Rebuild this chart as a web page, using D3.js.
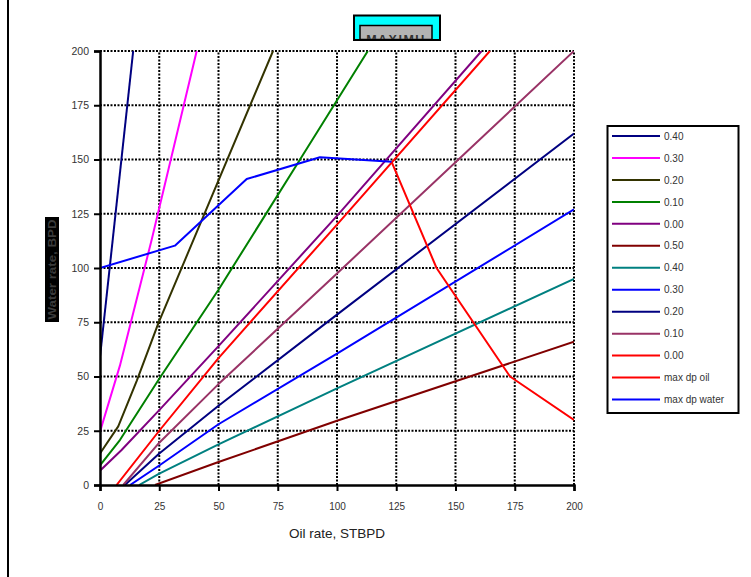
<!DOCTYPE html>
<html>
<head>
<meta charset="utf-8">
<script src="https://cdn.jsdelivr.net/npm/d3@7"></script>
<style>
  html, body { margin: 0; padding: 0; background: #fff; }
  svg { display: block; font-family: "Liberation Sans", Arial, sans-serif; }
</style>
</head>
<body>
<svg id="chart" width="751" height="577"></svg>
<script>
// Water rate vs oil rate curves for several dp values, plus the max-dp envelopes.
const xTicks = [0, 25, 50, 75, 100, 125, 150, 175, 200];
const yTicks = [0, 25, 50, 75, 100, 125, 150, 175, 200];

const seriesLabels = ["0.40", "0.30", "0.20", "0.10", "0.00", "0.50", "0.40", "0.30", "0.20", "0.10", "0.00", "max dp oil", "max dp water"];
const seriesColors = ["#000080", "#FF00FF", "#333300", "#008000", "#800080", "#800000", "#008080", "#0000FF", "#000080", "#993366", "#FF0000", "#FF0000", "#0000FF"];

// oil rate (STBPD) and water rate (BPD) per curve
const oilA040 = [0, 14];
const watA040 = [59, 200];
const oilA030 = [0, 8.4, 21.8, 40.8];
const watA030 = [24.6, 55, 113, 200];
const oilA020 = [0, 7.7, 15.5, 24.6, 73];
const watA020 = [14.5, 27, 48, 74.5, 200];
const oilA010 = [0, 8.4, 25, 50, 84.4, 113];
const watA010 = [9, 20.7, 49, 90, 150, 200];
const oilA000 = [0, 9, 25, 50, 100, 161];
const watA000 = [6.6, 16, 34.5, 64, 124, 200];
const oilB050 = [23.2, 50, 100, 200];
const watB050 = [0, 10.6, 29.6, 66];
const oilB040 = [16.5, 25, 50, 100, 200];
const watB040 = [0, 5.2, 18.7, 44.5, 95];
const oilB030 = [12.7, 25, 50, 100, 200];
const watB030 = [0, 9, 28, 60.5, 127];
const oilB020 = [10.5, 25, 50, 100, 200];
const watB020 = [0, 14.5, 36.5, 78.5, 162];
const oilB010 = [9.8, 25, 50, 100, 200];
const watB010 = [0, 19.5, 46.5, 97.5, 200];
const oilB000 = [7, 25, 50, 100, 164.5];
const watB000 = [0, 25, 58.5, 120, 200];
const oilMaxOil = [123, 142, 173, 200];
const watMaxOil = [149, 100, 50, 30];
const oilMaxWat = [0, 31.6, 61.9, 92.8, 123];
const watMaxWat = [100, 110.3, 141, 151, 149];

const seriesOil = [oilA040, oilA030, oilA020, oilA010, oilA000, oilB050, oilB040, oilB030, oilB020, oilB010, oilB000, oilMaxOil, oilMaxWat];
const seriesWat = [watA040, watA030, watA020, watA010, watA000, watB050, watB040, watB030, watB020, watB010, watB000, watMaxOil, watMaxWat];

const svg = d3.select("#chart");

const x = d3.scaleLinear().domain([0, 200]).range([100, 574]);
const y = d3.scaleLinear().domain([0, 200]).range([485, 51]);

// outer frame edge on the left
svg.append("line").attr("x1", 8).attr("x2", 8).attr("y1", 0).attr("y2", 577)
  .attr("stroke", "#000").attr("stroke-width", 2);

// grid
const grid = svg.append("g");
grid.selectAll("line.h").data(yTicks.filter(d => d > 0)).join("line")
  .attr("x1", x(0)).attr("x2", x(200))
  .attr("y1", d => y(d)).attr("y2", d => y(d))
  .attr("stroke", "#000").attr("stroke-width", 2).attr("stroke-dasharray", "2,1.5");
grid.selectAll("line.v").data(xTicks.filter(d => d > 0)).join("line")
  .attr("y1", y(0)).attr("y2", y(200))
  .attr("x1", d => x(d)).attr("x2", d => x(d))
  .attr("stroke", "#000").attr("stroke-width", 2).attr("stroke-dasharray", "2,1.5");

// curves clipped to the plot area
svg.append("clipPath").attr("id", "plotClip").append("rect")
  .attr("x", x(0)).attr("y", y(200)).attr("width", x(200) - x(0)).attr("height", y(0) - y(200));

const line = d3.line().x(d => x(d[0])).y(d => y(d[1]));
const curves = svg.append("g").attr("clip-path", "url(#plotClip)");
seriesOil.forEach((oil, i) => {
  const pts = oil.map((o, j) => [o, seriesWat[i][j]]);
  curves.append("path").datum(pts)
    .attr("d", line)
    .attr("fill", "none")
    .attr("stroke", seriesColors[i])
    .attr("stroke-width", 2)
    .attr("stroke-linejoin", "round");
});

// axes
const yAxis = d3.axisLeft(y).tickValues(yTicks).tickSize(6).tickPadding(5);
const xAxis = d3.axisBottom(x).tickValues(xTicks).tickSize(6).tickPadding(12);

const gy = svg.append("g").attr("transform", `translate(${x(0)},0)`).call(yAxis);
gy.select(".domain").attr("stroke-width", 2.5);
gy.selectAll(".tick line").attr("stroke-width", 2);
gy.selectAll(".tick text").attr("font-size", 10.5).attr("fill", "#333")
  .attr("font-family", "'Liberation Sans', Arial, sans-serif");

const gx = svg.append("g").attr("transform", `translate(0,${y(0)})`).call(xAxis);
gx.select(".domain").attr("stroke-width", 2.5);
gx.selectAll(".tick line").attr("stroke-width", 2);
gx.selectAll(".tick text").attr("font-size", 10).attr("fill", "#333")
  .attr("font-family", "'Liberation Sans', Arial, sans-serif");

// x-axis title
svg.append("text").attr("x", 337).attr("y", 538).attr("text-anchor", "middle")
  .attr("font-size", 13.5).attr("fill", "#222").text("Oil rate, STBPD");

// y-axis title on dark block
svg.append("rect").attr("x", 45).attr("y", 217).attr("width", 14).attr("height", 105).attr("fill", "#000");
svg.append("text")
  .attr("transform", "translate(56,269.5) rotate(-90)")
  .attr("text-anchor", "middle")
  .attr("font-size", 11.5).attr("font-weight", "bold").attr("fill", "#3c3c3c")
  .attr("textLength", 100).attr("lengthAdjust", "spacingAndGlyphs")
  .text("Water rate, BPD");

// title box
svg.append("rect").attr("x", 354).attr("y", 15.5).attr("width", 86).attr("height", 24.5)
  .attr("fill", "#00FFFF").attr("stroke", "#000").attr("stroke-width", 2);
svg.append("clipPath").attr("id", "titleClip").append("rect")
  .attr("x", 360).attr("y", 25).attr("width", 72).attr("height", 14);
svg.append("rect").attr("x", 360).attr("y", 25.5).attr("width", 72).attr("height", 14)
  .attr("fill", "#b3b3b3").attr("stroke", "#000").attr("stroke-width", 1.5);
svg.append("text").attr("clip-path", "url(#titleClip)")
  .attr("x", 396).attr("y", 44).attr("text-anchor", "middle")
  .attr("font-size", 12.5).attr("font-weight", "bold").attr("fill", "#333")
  .attr("letter-spacing", 1.5)
  .text("MAXIMU");
svg.append("line").attr("x1", 353).attr("x2", 441).attr("y1", 40).attr("y2", 40)
  .attr("stroke", "#000").attr("stroke-width", 2);

// legend
const legend = svg.append("g");
legend.append("rect").attr("x", 607.5).attr("y", 126).attr("width", 131).attr("height", 287)
  .attr("fill", "#fff").attr("stroke", "#000").attr("stroke-width", 2);
const legY = d3.scaleLinear().domain([0, seriesLabels.length - 1]).range([136, 399.5]);
seriesLabels.forEach((lab, i) => {
  legend.append("line").attr("x1", 612).attr("x2", 660)
    .attr("y1", legY(i)).attr("y2", legY(i))
    .attr("stroke", seriesColors[i]).attr("stroke-width", 2);
  legend.append("text").attr("x", 664).attr("y", legY(i) + 3.7)
    .attr("font-size", 10).attr("fill", "#333").text(lab);
});
</script>
</body>
</html>
